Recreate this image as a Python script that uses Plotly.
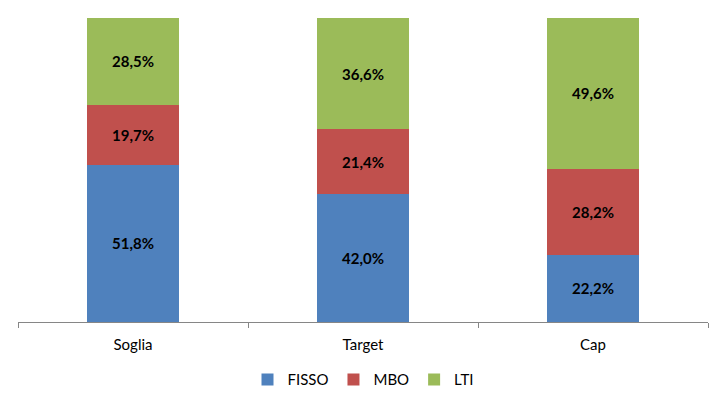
import plotly.graph_objects as go

categories = ["Soglia", "Target", "Cap"]
series_names = ["FISSO", "MBO", "LTI"]
fisso = [51.8, 42.0, 22.2]
mbo = [19.7, 21.4, 28.2]
lti = [28.5, 36.6, 49.6]
colors = ["#4F81BD", "#C0504D", "#9BBB59"]

def fmt(v):
    return f"{v:.1f}%".replace(".", ",")

fig = go.Figure()
for name, vals, col in zip(series_names, [fisso, mbo, lti], colors):
    fig.add_trace(go.Bar(
        x=categories, y=vals, name=name,
        marker=dict(color=col, line=dict(width=0)),
        text=[fmt(v) for v in vals],
        textposition="inside", insidetextanchor="middle",
        textfont=dict(family="Lato", size=15, color="#000000", weight="bold"),
        width=0.4,
    ))

fig.update_layout(
    barmode="stack",
    width=726, height=404,
    margin=dict(l=18, r=18, t=18, b=82),
    paper_bgcolor="white", plot_bgcolor="white",
    font=dict(family="Lato", size=15, color="#000000"),
    showlegend=True,
    legend=dict(orientation="h", x=0.5, xanchor="center", xref="container",
                y=0.06, yanchor="middle", yref="container",
                font=dict(size=15), itemwidth=30, traceorder="normal"),
    xaxis=dict(showline=True, linecolor="#868686", linewidth=1,
               ticks="outside", tickson="boundaries", ticklen=5, tickcolor="#868686",
               showgrid=False, range=[-0.5, 2.5], tickfont=dict(size=15),
               ticklabelstandoff=9, automargin=False),
    yaxis=dict(visible=False, range=[0, 100], showgrid=False),
)

fig.write_html("out.html")
